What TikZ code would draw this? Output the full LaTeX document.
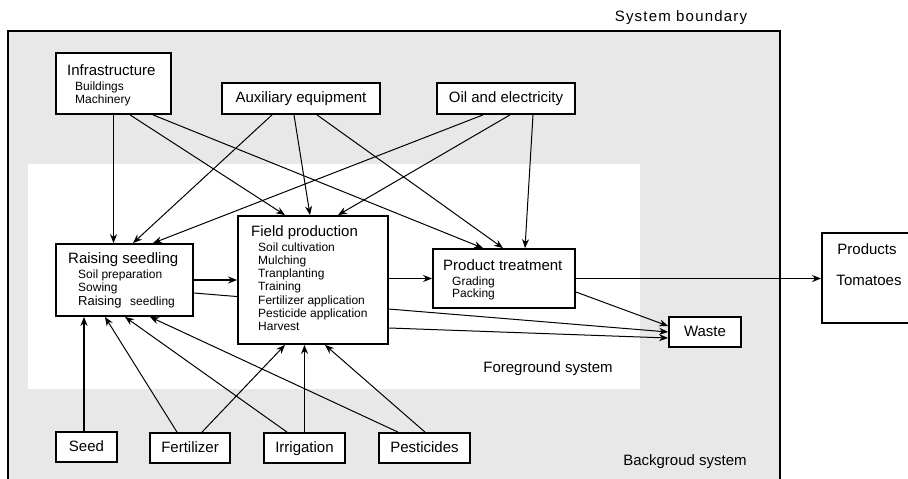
\documentclass[tikz,border=0pt]{standalone}
\usepackage{fontspec}
\setmainfont{Liberation Sans}
\usetikzlibrary{arrows.meta}
\definecolor{bgGray}{HTML}{E8E8E8}
\newcommand{\mainsize}{\fontsize{15}{18}\selectfont}
\newcommand{\itemsize}{\fontsize{12}{14}\selectfont}

\begin{document}
\begin{tikzpicture}[x=1pt, y=-1pt,
    boxNode/.style={rectangle,draw,line width=1.8pt,fill=white,inner sep=0pt,
      text height=11pt,text depth=3pt,font=\mainsize},
    headNode/.style={anchor=base west,inner sep=0pt,font=\mainsize},
    itemNode/.style={anchor=base west,inner sep=0pt,font=\itemsize},
    flow/.style={-{Stealth[length=9pt,width=7pt]},line width=1pt},
    midFlow/.style={flow,line width=1.4pt},
    mainFlow/.style={flow,line width=1.9pt}]
  \useasboundingbox (0,0) rectangle (908,479);
  % background and foreground system
  \fill[bgGray] (8,31) rectangle (780,485);
  \fill[white] (28,164) rectangle (640,389);
  \draw[line width=1.9pt] (8,485) -- (8,31) -- (780,31) -- (780,485);
  \node[headNode,anchor=base] (sysLabel) at (681,21) {\addfontfeature{LetterSpace=8}System boundary};
  \node[headNode,anchor=base] (fgLabel) at (548,372) {Foreground system};
  \node[headNode,anchor=base] (bgLabel) at (685,465) {Backgroud system};

  % inputs
  \node[boxNode, minimum width=115pt, minimum height=61pt] (infra) at (113.5,83.5) {};
  \node[headNode] (infraHead) at (67,75.5) {Infrastructure};
  \node[itemNode] (infraA) at (75,90.5) {Buildings};
  \node[itemNode] (infraB) at (75,103) {Machinery};
  \node[boxNode, minimum width=158pt, minimum height=31pt] (aux) at (301,98.5) {Auxiliary equipment};
  \node[boxNode, minimum width=138pt, minimum height=31pt] (oil) at (506,98.5) {Oil and electricity};
  \node[boxNode, minimum width=61pt, minimum height=30pt] (seed) at (86.5,447) {Seed};
  \node[boxNode, minimum width=80pt, minimum height=30pt] (fert) at (190,448) {Fertilizer};
  \node[boxNode, minimum width=81pt, minimum height=30pt] (irr) at (304.5,448) {Irrigation};
  \node[boxNode, minimum width=91pt, minimum height=30pt] (pest) at (424.5,448) {Pesticides};

  % processes
  \node[boxNode, minimum width=137pt, minimum height=72pt] (rs) at (124.5,280) {};
  \node[headNode] (rsHead) at (68,263) {Raising seedling};
  \node[itemNode] (rsA) at (78,278.5) {Soil preparation};
  \node[itemNode] (rsB) at (78,291.5) {Sowing};
  \node[itemNode] (rsC) at (78,305) {\fontsize{13}{15}\selectfont Raising};
  \node[itemNode] (rsD) at (130,305) {seedling};
  \node[boxNode, minimum width=142pt, minimum height=59pt] (pt) at (504,278.5) {};
  \node[headNode] (ptHead) at (443,270) {Product treatment};
  \node[itemNode] (ptA) at (452,285) {Grading};
  \node[itemNode] (ptB) at (452,297.5) {Packing};
  \node[boxNode, minimum width=72pt, minimum height=30pt] (waste) at (705,332) {Waste};
  \node[boxNode, minimum width=90pt, minimum height=90pt] (prod) at (867,278) {};
  \node[headNode,anchor=base] (prodA) at (867,254) {Products};
  \node[headNode,anchor=base] (prodB) at (869,285) {Tomatoes};

  % runs behind field production
  \draw[flow] ([yshift=-13pt]rs.east) -- (waste.west);

  \node[boxNode, minimum width=150pt, minimum height=128pt] (fp) at (313,280) {};
  \node[headNode] (fpHead) at (251,236) {Field production};
  \foreach \txt [count=\i] in {Soil cultivation, Mulching, Tranplanting, Training,
      Fertilizer application, Pesticide application, Harvest}
    \node[itemNode] (fpItem\i) at (258,237.7+13.3*\i) {\txt};

  % flows from the top
  \draw[midFlow] (infra.south) -- (infra.south |- rs.north);
  \draw[flow] ([xshift=16.5pt]infra.south) -- ([xshift=-28pt]fp.north);
  \draw[flow] ([xshift=39.5pt]infra.south) -- ([xshift=-21pt]pt.north);
  \draw[flow] ([xshift=-29pt]aux.south) -- ([xshift=8.5pt]rs.north);
  \draw[flow] ([xshift=-7pt]aux.south) -- ([xshift=-3pt]fp.north);
  \draw[flow] ([xshift=16pt]aux.south) -- ([xshift=-1pt]pt.north);
  \draw[flow] ([xshift=-23pt]oil.south) -- ([xshift=28.5pt]rs.north);
  \draw[flow] ([xshift=4pt]oil.south) -- ([xshift=25pt]fp.north);
  \draw[flow] ([xshift=27pt]oil.south) -- ([xshift=21pt]pt.north);

  % flows from the bottom
  \draw[midFlow] ([xshift=-2.5pt]seed.north) -- ([xshift=-40.5pt]rs.south);
  \draw[flow] ([xshift=-13pt]fert.north) -- ([xshift=-19.5pt]rs.south);
  \draw[flow] ([xshift=12pt]fert.north) -- ([xshift=-28pt]fp.south);
  \draw[flow] ([xshift=-17.5pt]irr.north) -- ([xshift=0.5pt]rs.south);
  \draw[midFlow] (irr.north) -- (irr.north |- fp.south);
  \draw[flow] ([xshift=-26.5pt]pest.north) -- ([xshift=25.5pt]rs.south);
  \draw[flow] ([xshift=0.5pt]pest.north) -- ([xshift=12pt]fp.south);

  % main chain and waste
  \draw[mainFlow] (rs.east) -- (rs.east -| fp.west);
  \draw[mainFlow] (fp.east |- pt.west) -- (pt.west);
  \draw[mainFlow] (pt.east) -- (pt.east -| prod.west);
  \draw[flow] ([yshift=-48pt]fp.east) -- ([yshift=-6pt]waste.west);
  \draw[flow] ([yshift=-13.5pt]pt.east) -- ([yshift=6pt]waste.west);
\end{tikzpicture}
\end{document}
